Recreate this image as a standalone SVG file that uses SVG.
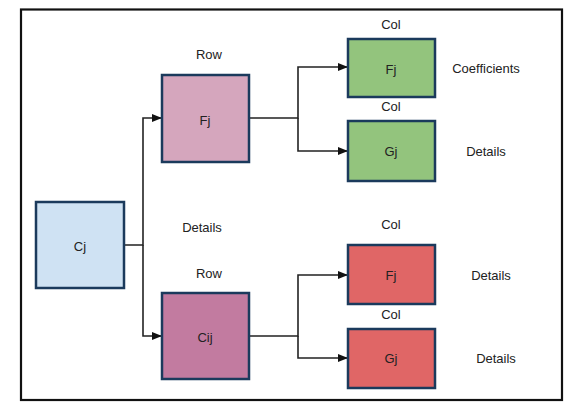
<svg xmlns="http://www.w3.org/2000/svg" width="584" height="411" viewBox="0 0 584 411">
<style>
  text { font-family: "Liberation Sans", Arial, sans-serif; font-size: 13px; fill: #222; text-anchor: middle; dominant-baseline: central; }
  .box { stroke: #1b3a5c; stroke-width: 2.5; }
  .conn { fill: none; stroke: #222; stroke-width: 1.6; }
</style>
<defs>
  <marker id="arrow" markerWidth="10" markerHeight="8" refX="9" refY="4" orient="auto" markerUnits="userSpaceOnUse">
    <path d="M0,0 L10,4 L0,8 Z" fill="#111"/>
  </marker>
</defs>
<rect x="0" y="0" width="584" height="411" fill="#fff"/>
<rect x="21" y="9.5" width="541" height="390.5" fill="#fff" stroke="#111" stroke-width="2.2"/>

<g id="connectors">
  <path class="conn" d="M124,245 H143 V118 H161" marker-end="url(#arrow)"/>
  <path class="conn" d="M143,245 V336 H161" marker-end="url(#arrow)"/>
  <path class="conn" d="M249,118 H298 V67 H347" marker-end="url(#arrow)"/>
  <path class="conn" d="M298,118 V151 H347" marker-end="url(#arrow)"/>
  <path class="conn" d="M249,336 H298 V275 H347" marker-end="url(#arrow)"/>
  <path class="conn" d="M298,336 V358 H347" marker-end="url(#arrow)"/>
</g>

<g id="node-cj">
  <rect class="box" x="36" y="202" width="88" height="86" fill="#cfe2f3"/>
  <text x="80" y="246">Cj</text>
</g>
<g id="node-row-fj">
  <text x="209" y="54">Row</text>
  <rect class="box" x="162" y="75" width="87" height="87" fill="#d5a6bd"/>
  <text x="205" y="120">Fj</text>
</g>
<g id="label-details-mid">
  <text x="202" y="227">Details</text>
</g>
<g id="node-row-cij">
  <text x="209" y="273">Row</text>
  <rect class="box" x="162" y="293" width="87" height="86" fill="#c27ba0"/>
  <text x="205" y="337">Cij</text>
</g>
<g id="node-col-fj-green">
  <text x="391" y="24">Col</text>
  <rect class="box" x="348" y="39" width="87" height="58" fill="#93c47d"/>
  <text x="391" y="69">Fj</text>
  <text x="486" y="68">Coefficients</text>
</g>
<g id="node-col-gj-green">
  <text x="391" y="106">Col</text>
  <rect class="box" x="348" y="121" width="87" height="60" fill="#93c47d"/>
  <text x="391" y="151">Gj</text>
  <text x="486" y="151">Details</text>
</g>
<g id="node-col-fj-red">
  <text x="391" y="224">Col</text>
  <rect class="box" x="348" y="245" width="87" height="59" fill="#e06666"/>
  <text x="391" y="275">Fj</text>
  <text x="491" y="275">Details</text>
</g>
<g id="node-col-gj-red">
  <text x="391" y="314">Col</text>
  <rect class="box" x="348" y="329" width="87" height="59" fill="#e06666"/>
  <text x="391" y="358">Gj</text>
  <text x="496" y="358">Details</text>
</g>
</svg>
